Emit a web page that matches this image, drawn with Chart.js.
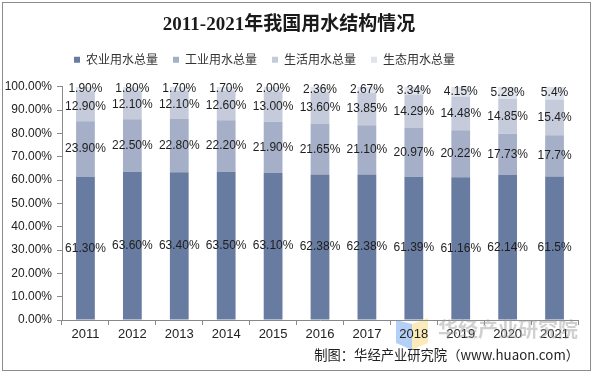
<!DOCTYPE html>
<html><head><meta charset="utf-8">
<script src="https://cdn.jsdelivr.net/npm/chart.js@4/dist/chart.umd.min.js"></script>
<style>html,body{margin:0;padding:0;background:#fff}#wrap{width:595px;height:375px;position:relative}</style>
</head><body><div id="wrap"><canvas id="c" width="595" height="375"></canvas></div>
<script>
const years = ['2011','2012','2013','2014','2015','2016','2017','2018','2019','2020','2021'];
const agriculture = [61.30,63.60,63.40,63.50,63.10,62.38,62.38,61.39,61.16,62.14,61.5];
const industry    = [23.90,22.50,22.80,22.20,21.90,21.65,21.10,20.97,20.22,17.73,17.7];
const domestic    = [12.90,12.10,12.10,12.60,13.00,13.60,13.85,14.29,14.48,14.85,15.4];
const ecological  = [1.90,1.80,1.70,1.70,2.00,2.36,2.67,3.34,4.15,5.28,5.4];
const labelDecimals = [2,2,2,2,2,2,2,2,2,2,1];
const seriesNames = ['农业用水总量','工业用水总量','生活用水总量','生态用水总量'];
const yTicks = [0,10,20,30,40,50,60,70,80,90,100];
const titleText = '2011-2021年我国用水结构情况';
const footerText = '制图：华经产业研究院（www.huaon.com）';
const watermarkText = '华经产业研究院';

const extras = {
  id:'extras',
  beforeInit(chart){
    const lg = chart.legend;
    if (lg) { const f = lg.fit; lg.fit = function(){ f.call(this); this.height += 11; }; }
  },
  afterLayout(chart){ if (chart.legend) { chart.legend.left = 59; } },
  beforeDraw(chart){
    const ctx = chart.ctx; ctx.save();
    ctx.fillStyle = 'rgba(120,170,240,0.55)';
    ctx.beginPath(); ctx.moveTo(396,320); ctx.lineTo(412,324); ctx.lineTo(412,350); ctx.lineTo(396,343); ctx.closePath(); ctx.fill();
    ctx.fillStyle = 'rgba(250,222,140,0.6)';
    ctx.beginPath(); ctx.moveTo(412,324); ctx.lineTo(428,318); ctx.lineTo(428,343); ctx.lineTo(412,350); ctx.closePath(); ctx.fill();
    ctx.restore();
  },
  afterDatasetsDraw(chart){
    const ctx = chart.ctx; ctx.save();
    ctx.font = '12px "Liberation Sans", Arial, sans-serif';
    ctx.fillStyle = '#1e1e1e'; ctx.textAlign = 'center'; ctx.textBaseline = 'middle';
    chart.data.datasets.forEach((ds, di) => {
      const meta = chart.getDatasetMeta(di);
      meta.data.forEach((el, i) => {
        ctx.fillText(ds.data[i].toFixed(labelDecimals[i]) + '%', el.x, (el.y + el.base) / 2);
      });
    });
    ctx.restore();
  },
  afterDraw(chart){
    const ctx = chart.ctx; ctx.save();
    ctx.strokeStyle = '#8c8c8c'; ctx.lineWidth = 1;
    ctx.strokeRect(2.5, 2.5, 588, 368);
    ctx.font = 'bold 20px "Noto Sans CJK SC", sans-serif';
    ctx.fillStyle = 'rgba(150,150,150,0.45)'; ctx.textAlign = 'left'; ctx.textBaseline = 'middle';
    ctx.fillText(watermarkText, 438, 329);
    ctx.font = '13.3px "Noto Sans CJK SC", sans-serif';
    ctx.fillStyle = '#1e1e1e'; ctx.textAlign = 'right';
    ctx.fillText(footerText, 579, 355);
    ctx.restore();
  }
};

new Chart(document.getElementById('c'), {
  type: 'bar',
  data: {
    labels: years,
    datasets: [
      {label: seriesNames[0], data: agriculture, backgroundColor: '#687BA0'},
      {label: seriesNames[1], data: industry,    backgroundColor: '#A5B0C8'},
      {label: seriesNames[2], data: domestic,    backgroundColor: '#C5CBDB'},
      {label: seriesNames[3], data: ecological,  backgroundColor: '#DFE3EC'}
    ]
  },
  options: {
    responsive: false, animation: false, devicePixelRatio: 1,
    layout: {padding: {left: 0, right: 17, top: 0, bottom: 29}},
    datasets: {bar: {barPercentage: 0.4, categoryPercentage: 1}},
    scales: {
      x: {
        stacked: true,
        grid: {offset: true, drawOnChartArea: false, tickLength: 5, color: '#898989'},
        border: {color: '#898989'},
        ticks: {font: {family: '"Liberation Sans", Arial, sans-serif', size: 13}, color: '#222', padding: 2, maxRotation: 0},
        afterFit(s){ s.height = 26; }
      },
      y: {
        stacked: true, min: 0, max: 100,
        grid: {drawOnChartArea: false, tickLength: 5, color: '#898989'},
        border: {color: '#898989'},
        afterBuildTicks(s){ s.ticks = yTicks.map(v => ({value: v})); },
        ticks: {callback: v => Number(v).toFixed(2) + '%', font: {family: '"Liberation Sans", Arial, sans-serif', size: 12}, color: '#222', padding: 5},
        afterFit(s){ s.width = 62; }
      }
    },
    plugins: {
      title: {display: true, text: titleText, color: '#1a1a1a',
        font: {family: '"Liberation Serif", "Noto Sans CJK SC", serif', size: 19, weight: 'bold'},
        padding: {top: 14, bottom: 2}},
      legend: {display: true, align: 'start',
        labels: {boxWidth: 6, boxHeight: 6, padding: 15, color: '#333',
          font: {family: '"Noto Sans CJK SC", sans-serif', size: 12}}},
      tooltip: {enabled: false}
    }
  },
  plugins: [extras]
});
</script></body></html>
